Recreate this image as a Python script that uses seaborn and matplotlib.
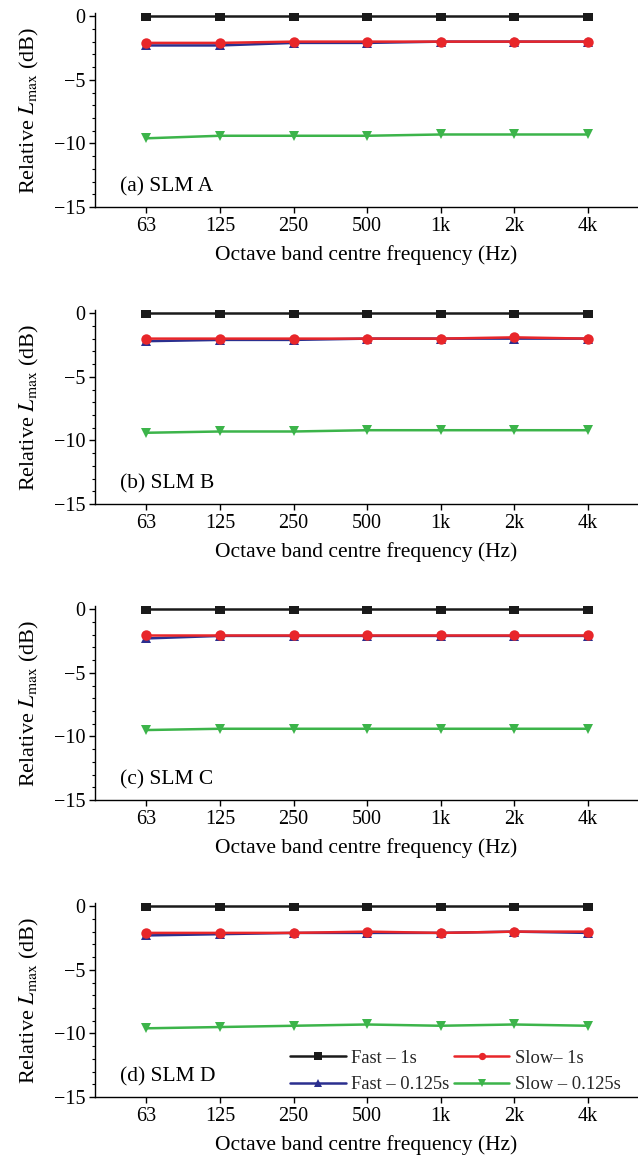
import numpy as np
import pandas as pd
import matplotlib
matplotlib.use("Agg")
import matplotlib.pyplot as plt
import seaborn as sns

bands = ["63", "125", "250", "500", "1k", "2k", "4k"]
series_names = ["Fast – 1s", "Slow– 1s", "Fast – 0.125s", "Slow – 0.125s"]
panel_titles = ["(a) SLM A", "(b) SLM B", "(c) SLM C", "(d) SLM D"]

# Relative Lmax (dB) per octave band, one list per weighting/time constant
fast_1s_a = [0.0, 0.0, 0.0, 0.0, 0.0, 0.0, 0.0]
slow_1s_a = [-2.1, -2.1, -2.0, -2.0, -2.0, -2.0, -2.0]
fast_125_a = [-2.3, -2.3, -2.1, -2.1, -2.0, -2.0, -2.0]
slow_125_a = [-9.6, -9.4, -9.4, -9.4, -9.3, -9.3, -9.3]

fast_1s_b = [0.0, 0.0, 0.0, 0.0, 0.0, 0.0, 0.0]
slow_1s_b = [-2.0, -2.0, -2.0, -2.0, -2.0, -1.9, -2.0]
fast_125_b = [-2.2, -2.1, -2.1, -2.0, -2.0, -2.0, -2.0]
slow_125_b = [-9.4, -9.3, -9.3, -9.2, -9.2, -9.2, -9.2]

fast_1s_c = [0.0, 0.0, 0.0, 0.0, 0.0, 0.0, 0.0]
slow_1s_c = [-2.0, -2.0, -2.0, -2.0, -2.0, -2.0, -2.0]
fast_125_c = [-2.3, -2.1, -2.1, -2.1, -2.1, -2.1, -2.1]
slow_125_c = [-9.5, -9.4, -9.4, -9.4, -9.4, -9.4, -9.4]

fast_1s_d = [0.0, 0.0, 0.0, 0.0, 0.0, 0.0, 0.0]
slow_1s_d = [-2.1, -2.1, -2.1, -2.0, -2.1, -2.0, -2.0]
fast_125_d = [-2.3, -2.2, -2.1, -2.1, -2.1, -2.0, -2.1]
slow_125_d = [-9.6, -9.5, -9.4, -9.3, -9.4, -9.3, -9.4]

panels = [
    (fast_1s_a, slow_1s_a, fast_125_a, slow_125_a),
    (fast_1s_b, slow_1s_b, fast_125_b, slow_125_b),
    (fast_1s_c, slow_1s_c, fast_125_c, slow_125_c),
    (fast_1s_d, slow_1s_d, fast_125_d, slow_125_d),
]

colors = ["#1a1a1a", "#e8262a", "#2b2f8f", "#3cb44a"]
markers = ["s", "o", "^", "v"]
# drawing order: green, blue, red, black (later ones on top)
draw_order = [3, 2, 1, 0]

sns.set_theme(style="ticks")
plt.rcParams["font.family"] = ["Liberation Serif", "DejaVu Serif"]
plt.rcParams["mathtext.fontset"] = "stix"
plt.rcParams["axes.unicode_minus"] = True

fig = plt.figure(figsize=(6.38, 11.57), dpi=100)
W, H = 638.0, 1157.0
left_px, right_px = 95, 637
bottoms_px = [207, 504, 800, 1097]
ax_h_px = 194

for k, (vals, title) in enumerate(zip(panels, panel_titles)):
    b = bottoms_px[k]
    ax = fig.add_axes([left_px / W, 1 - b / H, (right_px - left_px) / W, ax_h_px / H])
    rows = []
    for i, name in enumerate(series_names):
        for band, v in zip(bands, vals[i]):
            rows.append({"band": band, "value": v, "series": name})
    df = pd.DataFrame(rows)
    for i in draw_order:
        sub = df[df["series"] == series_names[i]]
        sns.lineplot(data=sub, x="band", y="value", ax=ax, color=colors[i],
                     marker=markers[i], markersize=7.5, markeredgewidth=0,
                     linewidth=1.8, sort=False, label=series_names[i], zorder=3 + (3 - i))
    ax.set_xlim(-0.7, 6.67)
    ax.set_ylim(-15, 0.25)
    ax.set_yticks([0, -5, -10, -15])
    ax.set_yticklabels(["0", "\u22125", "\u221210", "\u221215"])
    ax.set_yticks(np.arange(-15, 1, 1), minor=True)
    ax.tick_params(axis="both", which="major", labelsize=14.5, length=4, width=1,
                   direction="out", color="black", labelcolor="black", pad=3)
    ax.tick_params(axis="y", which="minor", length=2.5, width=0.8, direction="out", color="black")
    for s in ["top", "right"]:
        ax.spines[s].set_visible(False)
    for s in ["left", "bottom"]:
        ax.spines[s].set_color("black")
        ax.spines[s].set_linewidth(1.0)
    ax.set_xlabel("Octave band centre frequency (Hz)", fontsize=15.5, color="black", labelpad=7)
    ax.set_ylabel("Relative $\\mathit{L}_{\\mathrm{max}}$ (dB)", fontsize=16, color="black", labelpad=9)
    ax.text(0.046, 0.105, title, transform=ax.transAxes, fontsize=15.5, color="black",
            va="center", ha="left")
    if k == 3:
        h, l = ax.get_legend_handles_labels()
        lookup = dict(zip(l, h))
        order = [series_names[0], series_names[2], series_names[1], series_names[3]]
        ax.legend([lookup[n] for n in order], order, ncol=2, frameon=False,
                  loc="lower left", bbox_to_anchor=(0.36, 0.02), fontsize=13.3,
                  handlelength=3.0, columnspacing=0.25, handletextpad=0.3,
                  labelspacing=0.5, borderaxespad=0.0, borderpad=0.0, markerscale=0.7)
    else:
        ax.get_legend().remove()

fig.savefig("out.png", dpi=100, facecolor="white")
